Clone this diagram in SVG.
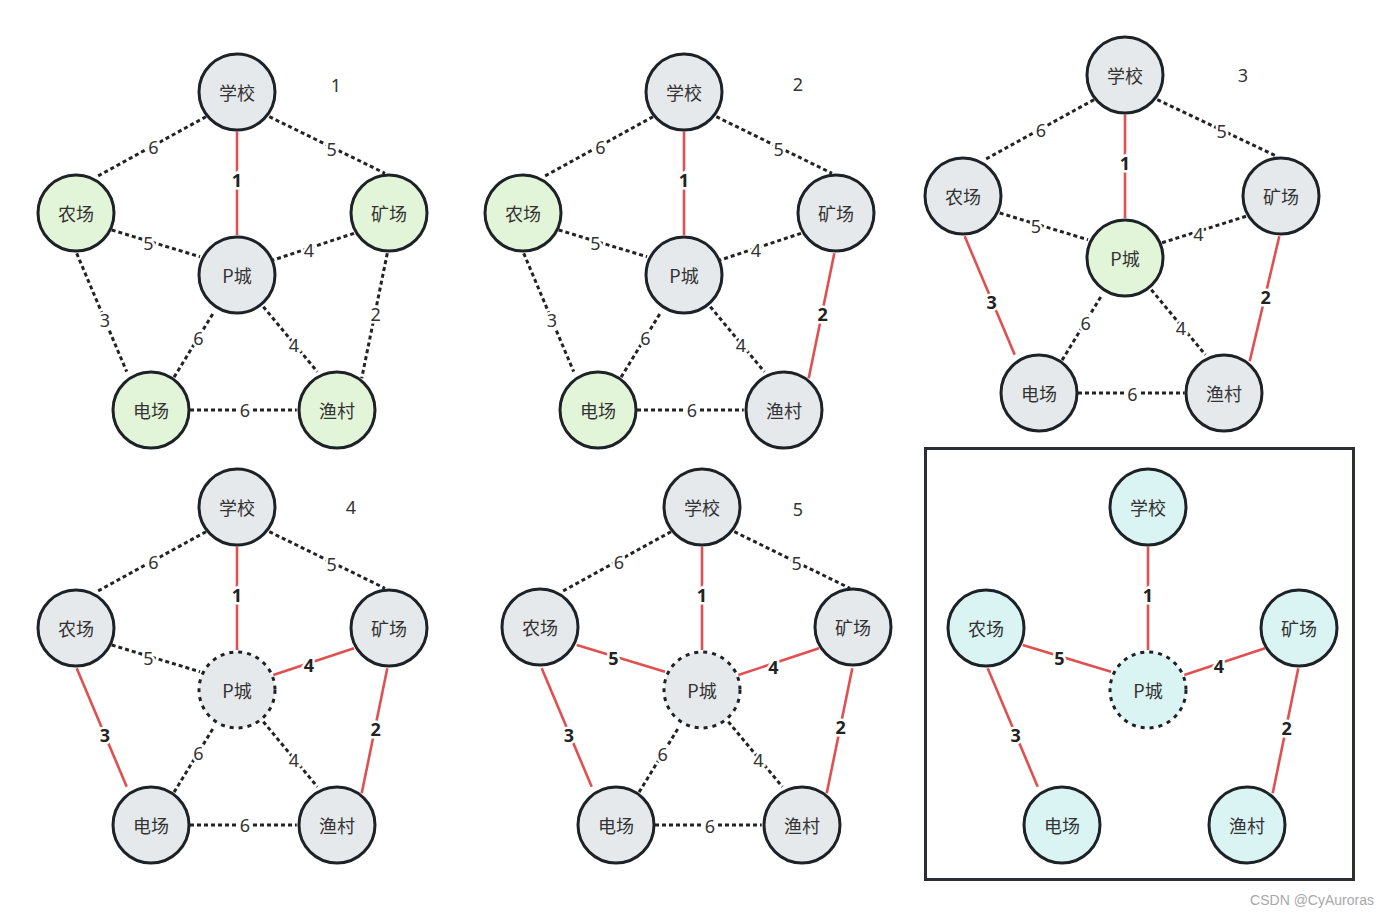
<svg xmlns="http://www.w3.org/2000/svg" width="1390" height="917" viewBox="0 0 1390 917">
<style>
.bg{fill:#fff}
.dot{stroke:#232323;stroke-width:3;stroke-dasharray:4 3;fill:none}
.red{stroke:#e05050;stroke-width:2.6;fill:none}
.nd{stroke:#1d2226;stroke-width:3}
.dn{stroke-dasharray:4 5}
.gray{fill:#e6e9ec}
.green{fill:#e3f5d9}
.cyan{fill:#daf3f3}
.t{font-family:"Noto Sans CJK SC","Noto Sans",sans-serif;font-size:18px;fill:#333;text-anchor:middle;dominant-baseline:central}
.l{font-family:"Noto Sans","Noto Sans CJK SC",sans-serif;font-size:18px;fill:#333;text-anchor:middle;dominant-baseline:central;paint-order:stroke;stroke:#fff;stroke-width:5px}
.b{font-weight:bold;fill:#222}
.num{font-family:"Noto Sans","Noto Sans CJK SC",sans-serif;font-size:18px;fill:#333;text-anchor:middle;dominant-baseline:central}
.box{fill:none;stroke:#2b2f33;stroke-width:3}
.wm{font-family:"Liberation Sans",Arial,sans-serif;font-size:14px;fill:#a8a8a8;text-anchor:end}
</style>
<rect class="bg" x="0" y="0" width="1390" height="917"/>

<!-- Graph 1 -->
<g id="graph1" transform="translate(237,92)">
  <g id="g1-connectors">
    <path class="dot" d="M-31,24.7 L-140.3,84.7"/>
    <path class="dot" d="M32.3,24.7 L148,81.3"/>
    <path class="red" d="M0,39.7 L0,143"/>
    <path class="dot" d="M-125.3,138 L-37,164.7"/>
    <path class="dot" d="M117,141.3 L36.3,168"/>
    <path class="dot" d="M-160.3,161.3 L-110.3,279.7"/>
    <path class="dot" d="M-24.3,222 L-63,285.3"/>
    <path class="dot" d="M26.3,214.7 L80.3,279.7"/>
    <path class="dot" d="M150.3,161.3 L124.7,286.3"/>
    <path class="dot" d="M-47,318 L59.7,318"/>
    <text class="l" x="-83.7" y="55.3">6</text>
    <text class="l" x="94.7" y="57.3">5</text>
    <text class="l b" x="0" y="88">1</text>
    <text class="l" x="-88.7" y="150.7">5</text>
    <text class="l" x="72" y="158">4</text>
    <text class="l" x="-132" y="228">3</text>
    <text class="l" x="-38.7" y="246.3">6</text>
    <text class="l" x="57" y="253">4</text>
    <text class="l" x="138.7" y="222">2</text>
    <text class="l" x="8" y="318">6</text>
  </g>
  <g id="g1-school"><circle class="nd gray" cx="0" cy="0" r="38"/><text class="t" x="0" y="0">学校</text></g>
  <g id="g1-farm"><circle class="nd green" cx="-161" cy="121" r="38"/><text class="t" x="-161" y="121">农场</text></g>
  <g id="g1-mine"><circle class="nd green" cx="152" cy="121" r="38"/><text class="t" x="152" y="121">矿场</text></g>
  <g id="g1-pcity"><circle class="nd gray" cx="0" cy="183" r="38"/><text class="t" x="0" y="183">P城</text></g>
  <g id="g1-power"><circle class="nd green" cx="-86" cy="318" r="38"/><text class="t" x="-86" y="318">电场</text></g>
  <g id="g1-fish"><circle class="nd green" cx="100" cy="318" r="38"/><text class="t" x="100" y="318">渔村</text></g>
  <text class="num" x="99" y="-7">1</text>
</g>

<!-- Graph 2 -->
<g id="graph2" transform="translate(684,92)">
  <g id="g2-connectors">
    <path class="dot" d="M-31,24.7 L-140.3,84.7"/>
    <path class="dot" d="M32.3,24.7 L148,81.3"/>
    <path class="red" d="M0,39.7 L0,143"/>
    <path class="dot" d="M-125.3,138 L-37,164.7"/>
    <path class="dot" d="M117,141.3 L36.3,168"/>
    <path class="dot" d="M-160.3,161.3 L-110.3,279.7"/>
    <path class="dot" d="M-24.3,222 L-63,285.3"/>
    <path class="dot" d="M26.3,214.7 L80.3,279.7"/>
    <path class="red" d="M150.3,161.3 L124.7,286.3"/>
    <path class="dot" d="M-47,318 L59.7,318"/>
    <text class="l" x="-83.7" y="55.3">6</text>
    <text class="l" x="94.7" y="57.3">5</text>
    <text class="l b" x="0" y="88">1</text>
    <text class="l" x="-88.7" y="150.7">5</text>
    <text class="l" x="72" y="158">4</text>
    <text class="l" x="-132" y="228">3</text>
    <text class="l" x="-38.7" y="246.3">6</text>
    <text class="l" x="57" y="253">4</text>
    <text class="l b" x="138.7" y="222">2</text>
    <text class="l" x="8" y="318">6</text>
  </g>
  <g id="g2-school"><circle class="nd gray" cx="0" cy="0" r="38"/><text class="t" x="0" y="0">学校</text></g>
  <g id="g2-farm"><circle class="nd green" cx="-161" cy="121" r="38"/><text class="t" x="-161" y="121">农场</text></g>
  <g id="g2-mine"><circle class="nd gray" cx="152" cy="121" r="38"/><text class="t" x="152" y="121">矿场</text></g>
  <g id="g2-pcity"><circle class="nd gray" cx="0" cy="183" r="38"/><text class="t" x="0" y="183">P城</text></g>
  <g id="g2-power"><circle class="nd green" cx="-86" cy="318" r="38"/><text class="t" x="-86" y="318">电场</text></g>
  <g id="g2-fish"><circle class="nd gray" cx="100" cy="318" r="38"/><text class="t" x="100" y="318">渔村</text></g>
  <text class="num" x="114" y="-8">2</text>
</g>

<!-- Graph 3 -->
<g id="graph3" transform="translate(1125,75)">
  <g id="g3-connectors">
    <path class="dot" d="M-31,24.7 L-140.3,84.7"/>
    <path class="dot" d="M32.3,24.7 L152,81.3"/>
    <path class="red" d="M0,39.7 L0,143"/>
    <path class="dot" d="M-125.3,138 L-37,164.7"/>
    <path class="dot" d="M121,141.3 L36.3,168"/>
    <path class="red" d="M-160.3,161.3 L-110.3,279.7"/>
    <path class="dot" d="M-24.3,222 L-63,285.3"/>
    <path class="dot" d="M26.3,214.7 L80.3,279.7"/>
    <path class="red" d="M154.3,161.3 L124.7,286.3"/>
    <path class="dot" d="M-47,318 L59.7,318"/>
    <text class="l" x="-84" y="55">6</text>
    <text class="l" x="96.7" y="55.7">5</text>
    <text class="l b" x="0" y="88">1</text>
    <text class="l" x="-89" y="151">5</text>
    <text class="l" x="73.3" y="159">4</text>
    <text class="l b" x="-133.3" y="226.7">3</text>
    <text class="l" x="-39.3" y="247.7">6</text>
    <text class="l" x="56" y="252.7">4</text>
    <text class="l b" x="140.7" y="221.7">2</text>
    <text class="l" x="7.3" y="319.3">6</text>
  </g>
  <g id="g3-school"><circle class="nd gray" cx="0" cy="0" r="38"/><text class="t" x="0" y="0">学校</text></g>
  <g id="g3-farm"><circle class="nd gray" cx="-162" cy="121" r="38"/><text class="t" x="-162" y="121">农场</text></g>
  <g id="g3-mine"><circle class="nd gray" cx="156" cy="121" r="38"/><text class="t" x="156" y="121">矿场</text></g>
  <g id="g3-pcity"><circle class="nd green" cx="0" cy="183" r="38"/><text class="t" x="0" y="183">P城</text></g>
  <g id="g3-power"><circle class="nd gray" cx="-86" cy="318" r="38"/><text class="t" x="-86" y="318">电场</text></g>
  <g id="g3-fish"><circle class="nd gray" cx="99" cy="318" r="38"/><text class="t" x="99" y="318">渔村</text></g>
  <text class="num" x="118" y="0">3</text>
</g>

<!-- Graph 4 -->
<g id="graph4" transform="translate(237,507)">
  <g id="g4-connectors">
    <path class="dot" d="M-31,24.7 L-140.3,84.7"/>
    <path class="dot" d="M32.3,24.7 L148,81.3"/>
    <path class="red" d="M0,39.7 L0,143"/>
    <path class="dot" d="M-125.3,138 L-37,164.7"/>
    <path class="red" d="M117,141.3 L36.3,168"/>
    <path class="red" d="M-160.3,161.3 L-110.3,279.7"/>
    <path class="dot" d="M-24.3,222 L-63,285.3"/>
    <path class="dot" d="M26.3,214.7 L80.3,279.7"/>
    <path class="red" d="M150.3,161.3 L124.7,286.3"/>
    <path class="dot" d="M-47,318 L59.7,318"/>
    <text class="l" x="-83.7" y="55.3">6</text>
    <text class="l" x="94.7" y="57.3">5</text>
    <text class="l b" x="0" y="88">1</text>
    <text class="l" x="-88.7" y="150.7">5</text>
    <text class="l b" x="72" y="158">4</text>
    <text class="l b" x="-132" y="228">3</text>
    <text class="l" x="-38.7" y="246.3">6</text>
    <text class="l" x="57" y="253">4</text>
    <text class="l b" x="138.7" y="222">2</text>
    <text class="l" x="8" y="318">6</text>
  </g>
  <g id="g4-school"><circle class="nd gray" cx="0" cy="0" r="38"/><text class="t" x="0" y="0">学校</text></g>
  <g id="g4-farm"><circle class="nd gray" cx="-161" cy="121" r="38"/><text class="t" x="-161" y="121">农场</text></g>
  <g id="g4-mine"><circle class="nd gray" cx="152" cy="121" r="38"/><text class="t" x="152" y="121">矿场</text></g>
  <g id="g4-pcity"><circle class="nd dn gray" cx="0" cy="183" r="38"/><text class="t" x="0" y="183">P城</text></g>
  <g id="g4-power"><circle class="nd gray" cx="-86" cy="318" r="38"/><text class="t" x="-86" y="318">电场</text></g>
  <g id="g4-fish"><circle class="nd gray" cx="100" cy="318" r="38"/><text class="t" x="100" y="318">渔村</text></g>
  <text class="num" x="114" y="0">4</text>
</g>

<!-- Graph 5 -->
<g id="graph5" transform="translate(702,507)">
  <g id="g5-connectors">
    <path class="dot" d="M-31,24.7 L-140.3,84.7"/>
    <path class="dot" d="M32.3,24.7 L148,81.3"/>
    <path class="red" d="M0,39.7 L0,143"/>
    <path class="red" d="M-125.3,138 L-37,164.7"/>
    <path class="red" d="M117,141.3 L36.3,168"/>
    <path class="red" d="M-160.3,161.3 L-110.3,279.7"/>
    <path class="dot" d="M-24.3,222 L-63,285.3"/>
    <path class="dot" d="M26.3,214.7 L80.3,279.7"/>
    <path class="red" d="M150.3,161.3 L124.7,286.3"/>
    <path class="dot" d="M-47,318 L59.7,318"/>
    <text class="l" x="-83" y="54.7">6</text>
    <text class="l" x="94.7" y="55.7">5</text>
    <text class="l b" x="0" y="88">1</text>
    <text class="l b" x="-88.7" y="151.3">5</text>
    <text class="l b" x="71.3" y="159.7">4</text>
    <text class="l b" x="-133" y="228">3</text>
    <text class="l" x="-39.3" y="247">6</text>
    <text class="l" x="56.3" y="253">4</text>
    <text class="l b" x="138.7" y="219.7">2</text>
    <text class="l" x="8" y="318.7">6</text>
  </g>
  <g id="g5-school"><circle class="nd gray" cx="0" cy="0" r="38"/><text class="t" x="0" y="0">学校</text></g>
  <g id="g5-farm"><circle class="nd gray" cx="-162" cy="120" r="38"/><text class="t" x="-162" y="120">农场</text></g>
  <g id="g5-mine"><circle class="nd gray" cx="151" cy="120" r="38"/><text class="t" x="151" y="120">矿场</text></g>
  <g id="g5-pcity"><circle class="nd dn gray" cx="0" cy="183" r="38"/><text class="t" x="0" y="183">P城</text></g>
  <g id="g5-power"><circle class="nd gray" cx="-86" cy="318" r="38"/><text class="t" x="-86" y="318">电场</text></g>
  <g id="g5-fish"><circle class="nd gray" cx="100" cy="318" r="38"/><text class="t" x="100" y="318">渔村</text></g>
  <text class="num" x="96" y="2">5</text>
</g>

<!-- Graph 6 (result) -->
<rect id="result-box" class="box" x="925.5" y="448.5" width="428" height="431"/>
<g id="graph6" transform="translate(1148,507)">
  <g id="g6-connectors">
    <path class="red" d="M0,39.7 L0,143"/>
    <path class="red" d="M-125.3,138 L-37,164.7"/>
    <path class="red" d="M117,141.3 L36.3,168"/>
    <path class="red" d="M-160.3,161.3 L-110.3,279.7"/>
    <path class="red" d="M150.3,161.3 L124.7,286.3"/>
    <text class="l b" x="0" y="88">1</text>
    <text class="l b" x="-88.7" y="151.3">5</text>
    <text class="l b" x="71" y="159">4</text>
    <text class="l b" x="-132.3" y="228">3</text>
    <text class="l b" x="138.7" y="221.3">2</text>
  </g>
  <g id="g6-school"><circle class="nd cyan" cx="0" cy="0" r="38"/><text class="t" x="0" y="0">学校</text></g>
  <g id="g6-farm"><circle class="nd cyan" cx="-162" cy="121" r="38"/><text class="t" x="-162" y="121">农场</text></g>
  <g id="g6-mine"><circle class="nd cyan" cx="151" cy="121" r="38"/><text class="t" x="151" y="121">矿场</text></g>
  <g id="g6-pcity"><circle class="nd dn cyan" cx="0" cy="183" r="38"/><text class="t" x="0" y="183">P城</text></g>
  <g id="g6-power"><circle class="nd cyan" cx="-86" cy="318" r="38"/><text class="t" x="-86" y="318">电场</text></g>
  <g id="g6-fish"><circle class="nd cyan" cx="99" cy="318" r="38"/><text class="t" x="99" y="318">渔村</text></g>
</g>

<text class="wm" x="1374" y="905">CSDN @CyAuroras</text>
</svg>
